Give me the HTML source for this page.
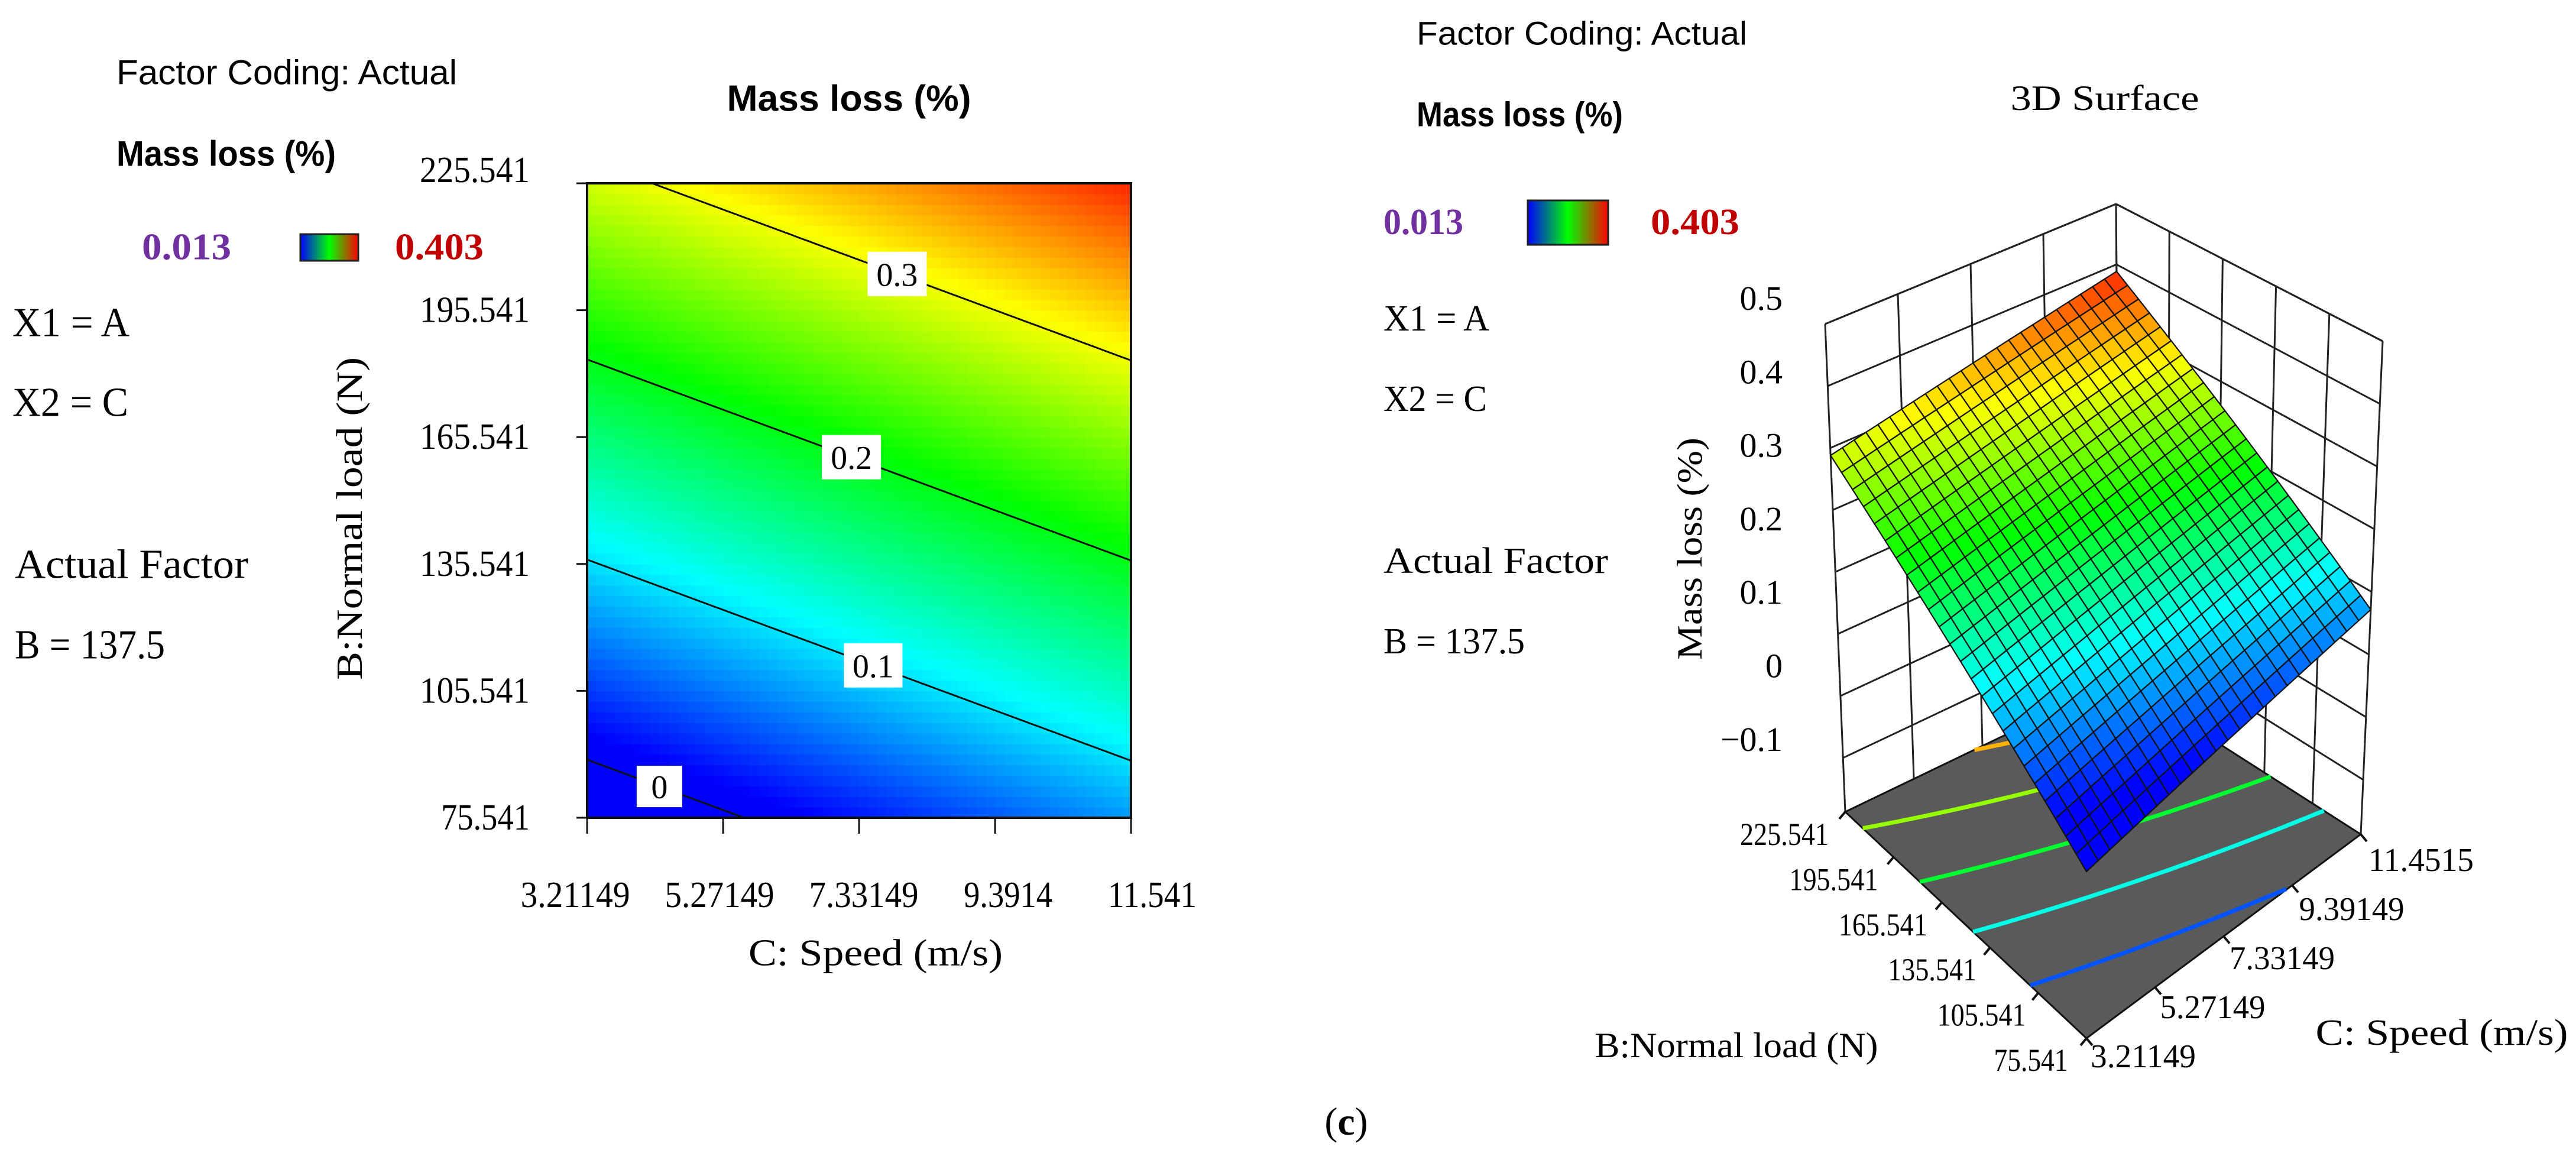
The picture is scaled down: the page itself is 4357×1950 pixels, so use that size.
<!DOCTYPE html>
<html><head><meta charset="utf-8">
<style>
html,body{margin:0;padding:0;background:#fff;}
svg{display:block;}
.sans{font-family:"Liberation Sans",sans-serif;}
.serif{font-family:"Liberation Serif",serif;}
</style></head>
<body>
<svg id="root" width="4357" height="1950" viewBox="0 0 4357 1950" xmlns="http://www.w3.org/2000/svg">
<defs>
<linearGradient id="swatch" x1="0" x2="1" y1="0" y2="0">
<stop offset="0" stop-color="#0000ff"/><stop offset="0.5" stop-color="#00ff00"/><stop offset="1" stop-color="#ff0000"/>
</linearGradient>
</defs>
<g dominant-baseline="central">
<!-- left legend -->
<text class="sans" x="197" y="123" font-size="58" textLength="576" lengthAdjust="spacingAndGlyphs">Factor Coding: Actual</text>
<text class="sans" x="197" y="260" font-size="60" font-weight="bold" textLength="371" lengthAdjust="spacingAndGlyphs">Mass loss (%)</text>
<text class="serif" x="240" y="417" font-size="64" font-weight="bold" fill="#7030a0" textLength="151" lengthAdjust="spacingAndGlyphs">0.013</text>
<rect x="508" y="396" width="98" height="45" fill="url(#swatch)" stroke="#222" stroke-width="3"/>
<text class="serif" x="668" y="417" font-size="64" font-weight="bold" fill="#c00000" textLength="150" lengthAdjust="spacingAndGlyphs">0.403</text>
<text class="serif" x="21" y="546" font-size="70" textLength="198" lengthAdjust="spacingAndGlyphs">X1 = A</text>
<text class="serif" x="21" y="681" font-size="70" textLength="196" lengthAdjust="spacingAndGlyphs">X2 = C</text>
<text class="serif" x="25" y="955" font-size="70" textLength="395" lengthAdjust="spacingAndGlyphs">Actual Factor</text>
<text class="serif" x="25" y="1091" font-size="70" textLength="254" lengthAdjust="spacingAndGlyphs">B = 137.5</text>
<!-- contour titles -->
<text class="sans" x="1436" y="167" font-size="62" font-weight="bold" text-anchor="middle" textLength="413" lengthAdjust="spacingAndGlyphs">Mass loss (%)</text>
<text class="serif" x="1481" y="1611" font-size="64" text-anchor="middle" textLength="430" lengthAdjust="spacingAndGlyphs">C: Speed (m/s)</text>
<text class="serif" transform="translate(592,877) rotate(-90)" x="0" y="0" font-size="62" text-anchor="middle" textLength="546" lengthAdjust="spacingAndGlyphs">B:Normal load (N)</text>
<!-- right legend -->
<text class="sans" x="2396" y="56" font-size="56" textLength="559" lengthAdjust="spacingAndGlyphs">Factor Coding: Actual</text>
<text class="sans" x="2396" y="194" font-size="58" font-weight="bold" textLength="349" lengthAdjust="spacingAndGlyphs">Mass loss (%)</text>
<text class="serif" x="2340" y="376" font-size="62" font-weight="bold" fill="#7030a0" textLength="135" lengthAdjust="spacingAndGlyphs">0.013</text>
<rect x="2584" y="339" width="136" height="75" fill="url(#swatch)" stroke="#222" stroke-width="3"/>
<text class="serif" x="2792" y="376" font-size="62" font-weight="bold" fill="#c00000" textLength="150" lengthAdjust="spacingAndGlyphs">0.403</text>
<text class="serif" x="2340" y="539" font-size="62" textLength="179" lengthAdjust="spacingAndGlyphs">X1 = A</text>
<text class="serif" x="2340" y="675" font-size="62" textLength="175" lengthAdjust="spacingAndGlyphs">X2 = C</text>
<text class="serif" x="2340" y="949" font-size="62" textLength="380" lengthAdjust="spacingAndGlyphs">Actual Factor</text>
<text class="serif" x="2340" y="1085" font-size="62" textLength="239" lengthAdjust="spacingAndGlyphs">B = 137.5</text>
<text class="serif" x="3560" y="166" font-size="60" text-anchor="middle" textLength="319" lengthAdjust="spacingAndGlyphs">3D Surface</text>
<text class="serif" transform="translate(2858,928) rotate(-90)" x="0" y="0" font-size="60" text-anchor="middle" textLength="376" lengthAdjust="spacingAndGlyphs">Mass loss (%)</text>
<text class="serif" x="2937" y="1768" font-size="60" text-anchor="middle" textLength="479" lengthAdjust="spacingAndGlyphs">B:Normal load (N)</text>
<text class="serif" x="4130" y="1747" font-size="62" text-anchor="middle" textLength="427" lengthAdjust="spacingAndGlyphs">C: Speed (m/s)</text>
<text class="serif" x="2277" y="1897" font-size="66" text-anchor="middle">(<tspan font-weight="bold">c</tspan>)</text>
</g>
<g id="contour"></g>
<g id="surface"></g>
</svg>
<script>
// ---- data ----
const speedTicks = ['3.21149','5.27149','7.33149','9.3914','11.541'];
const loadTicks = ['75.541','105.541','135.541','165.541','195.541','225.541'];
const surfSpeedTicks = ['3.21149','5.27149','7.33149','9.39149','11.4515'];
const zTicks = [-0.1,0,0.1,0.2,0.3,0.4,0.5];
const zTickLabels = ['\u22120.1','0','0.1','0.2','0.3','0.4','0.5'];
const zGrid = [-0.2,-0.1,0,0.1,0.2,0.3,0.4,0.5];
// model: mass loss = intercept + speedSlope*u + loadSlope*v (u,v normalized 0..1)
const intercept = [-0.029];
const speedSlope = [0.1005];
const loadSlope = [0.317];
const contourLevels = [0, 0.1, 0.2, 0.3];
const contourLabelU = [0.133, 0.526, 0.486, 0.57];
const floorLevels = [0.045, 0.12, 0.19, 0.265, 0.335];
const colorMin = [0.013], colorMax = [0.403];

const NS = 'http://www.w3.org/2000/svg';
function mk(tag, attrs, parent){const e=document.createElementNS(NS,tag);for(const k in attrs)e.setAttribute(k,attrs[k]);parent.appendChild(e);return e;}
function model(u,v){return intercept[0]+speedSlope[0]*u+loadSlope[0]*v;}
function jet(z){let t=(z-colorMin[0])/(colorMax[0]-colorMin[0]);t=Math.max(0,Math.min(1,t));
 const s=[[0,0,255],[0,255,255],[0,255,0],[255,255,0],[255,0,0]];const p=t*4;const i=Math.min(3,Math.floor(p));const f=p-i;
 const c=s[i].map((a,k)=>Math.round(a+(s[i+1][k]-a)*f));return 'rgb('+c.join(',')+')';}

// ---- contour plot ----
const cg=document.getElementById('contour');
const X0=993,X1=1913,Y0=1383,Y1=310;
const xs=u=>X0+u*(X1-X0), ys=v=>Y0-v*(Y0-Y1);
const cellsN=60;
for(let i=0;i<cellsN;i++)for(let j=0;j<cellsN;j++){
 const u=(i+0.5)/cellsN,v=(j+0.5)/cellsN;
 const r=mk('rect',{x:xs(i/cellsN),y:ys((j+1)/cellsN),width:(X1-X0)/cellsN+0.8,height:(Y0-Y1)/cellsN+0.8,fill:jet(model(u,v))},cg);
 
 
}
contourLevels.forEach((L,k)=>{
 const pts=[];
 for(let s=0;s<=200;s++){const u=s/200;const v=(L-intercept[0]-speedSlope[0]*u)/loadSlope[0];if(v>=0&&v<=1)pts.push(xs(u).toFixed(1)+','+ys(v).toFixed(1));}
 const pl=mk('polyline',{points:pts.join(' '),fill:'none',stroke:'#111',"stroke-width":3},cg);
 
 
 const u=contourLabelU[k];const v=Math.max(0.04,Math.min(0.97,(L-intercept[0]-speedSlope[0]*u)/loadSlope[0]));
 const cx=xs(u),cy=ys(v);const w=L===0?77:(L===0.1?99:100),h=L===0?70:75;
 const b=mk('rect',{x:cx-w/2,y:cy-h/2,width:w,height:h,fill:'#fff'},cg);
 
 
 const t=mk('text',{x:cx,y:cy+20,'font-size':56,'text-anchor':'middle',class:'serif'},cg);
 t.textContent=String(L);
 
 
});
const frame=mk('polyline',{points:`${X0},${Y0} ${X0},${Y1} ${X1},${Y1} ${X1},${Y0} ${X0},${Y0}`,fill:'none',stroke:'#111','stroke-width':4},cg);


speedTicks.forEach((s,i)=>{
 const u=i/(speedTicks.length-1);
 const tk=mk('line',{x1:xs(u),x2:xs(u),y1:Y0,y2:Y0+27,stroke:'#111','stroke-width':3},cg);
 
 
 const t=mk('text',{x:973+i*244,y:1534,'font-size':62,'text-anchor':'middle',class:'serif',textLength:s.length>6?185:150,lengthAdjust:'spacingAndGlyphs'},cg);
 t.textContent=s;
 
 
});
loadTicks.forEach((s,i)=>{
 const v=i/(loadTicks.length-1);
 const tk=mk('line',{x1:X0-18,x2:X0,y1:ys(v),y2:ys(v),stroke:'#111','stroke-width':3},cg);
 
 
 const t=mk('text',{x:896,y:ys(v)+(i===5?-2:20),'font-size':62,'text-anchor':'end',class:'serif',textLength:s.length>6?186:150,lengthAdjust:'spacingAndGlyphs'},cg);
 t.textContent=s;
 
 
});

// ---- 3D surface ----
const sg=document.getElementById('surface');
const zMin=-0.287,zMax=0.5;
const Bf=[[3529,1756],[3993,1411],[3121,1373],[3585,1150]]; // (u0v0),(u1v0),(u0v1),(u1v1)
const Tf=[[3529,896],[4030,577],[3087,548],[3579,345]];
function bil(c,u,v){return [c[0][0]*(1-u)*(1-v)+c[1][0]*u*(1-v)+c[2][0]*(1-u)*v+c[3][0]*u*v,
 c[0][1]*(1-u)*(1-v)+c[1][1]*u*(1-v)+c[2][1]*(1-u)*v+c[3][1]*u*v];}
function P(u,v,z){const w=(z-zMin)/(zMax-zMin);const b=bil(Bf,u,v),t=bil(Tf,u,v);return [b[0]+(t[0]-b[0])*w,b[1]+(t[1]-b[1])*w];}
const pstr=a=>a.map(p=>p[0].toFixed(1)+','+p[1].toFixed(1)).join(' ');
function line(a,b,stroke,sw,name){const l=mk('line',{x1:a[0],y1:a[1],x2:b[0],y2:b[1],stroke:stroke,'stroke-width':sw},sg);
 
 return l;}
// walls gridlines
zGrid.concat([zMax]).forEach(z=>{line(P(0,1,z),P(1,1,z),'#222',3,'back-wall-gridline');line(P(1,1,z),P(1,0,z),'#222',3,'side-wall-gridline');});
for(let i=0;i<=4;i++){line(P(i/4,1,zMin),P(i/4,1,zMax),'#222',3,'back-wall-vertical');}
for(let j=0;j<=5;j++){line(P(1,j/5,zMin),P(1,j/5,zMax),'#222',3,'side-wall-vertical');}
// floor
const floor=mk('polygon',{points:pstr([P(0,0,zMin),P(1,0,zMin),P(1,1,zMin),P(0,1,zMin)]),fill:'#5a5a5a',stroke:'#111','stroke-width':3},sg);


floorLevels.forEach(L=>{
 const pts=[];
 for(let s=0;s<=100;s++){const u=s/100;const v=(L-intercept[0]-speedSlope[0]*u)/loadSlope[0];if(v>=0&&v<=1)pts.push(P(u,v,zMin));}
 const pl=mk('polyline',{points:pstr(pts),fill:'none',stroke:jet(L),'stroke-width':7},sg);
 
 
});
// surface mesh
const N=24;
for(let i=0;i<N;i++)for(let j=0;j<N;j++){
 const u0=i/N,u1=(i+1)/N,v0=j/N,v1=(j+1)/N;
 const z=model((u0+u1)/2,(v0+v1)/2);
 const q=mk('polygon',{points:pstr([P(u0,v0,model(u0,v0)),P(u1,v0,model(u1,v0)),P(u1,v1,model(u1,v1)),P(u0,v1,model(u0,v1))]),fill:jet(z),stroke:'#111','stroke-width':2.2,'stroke-linejoin':'round'},sg);
 
 
}
// z labels
zTicks.forEach((z,k)=>{
 const t=mk('text',{x:3015,y:504+(0.5-z)*1243+20,'font-size':58,'text-anchor':'end',class:'serif'},sg);
 t.textContent=zTickLabels[k];
 
 
});
// floor tick labels
loadTicks.forEach((s,i)=>{
 const f=i/(loadTicks.length-1);
 const x=3435+(3018-3435)*f,y=1793+(1411-1793)*f;
 const t=mk('text',{x:x,y:y+18,'font-size':54,'text-anchor':'middle',class:'serif',textLength:s.length>6?150:125,lengthAdjust:'spacingAndGlyphs'},sg);
 t.textContent=s;
 
 
 const tk=line(P(0,f,zMin),[P(0,f,zMin)[0]-10,P(0,f,zMin)[1]+12],'#111',4,'load-tick');
});
surfSpeedTicks.forEach((s,i)=>{
 const f=i/(surfSpeedTicks.length-1);
 const x=3625+(4095-3625)*f,y=1787+(1455-1787)*f;
 const t=mk('text',{x:x,y:y+18,'font-size':56,'text-anchor':'middle',class:'serif',textLength:178,lengthAdjust:'spacingAndGlyphs'},sg);
 t.textContent=s;
 
 
 const tk=line(P(f,0,zMin),[P(f,0,zMin)[0]+10,P(f,0,zMin)[1]+12],'#111',4,'speed-tick');
});
</script>
</body></html>
